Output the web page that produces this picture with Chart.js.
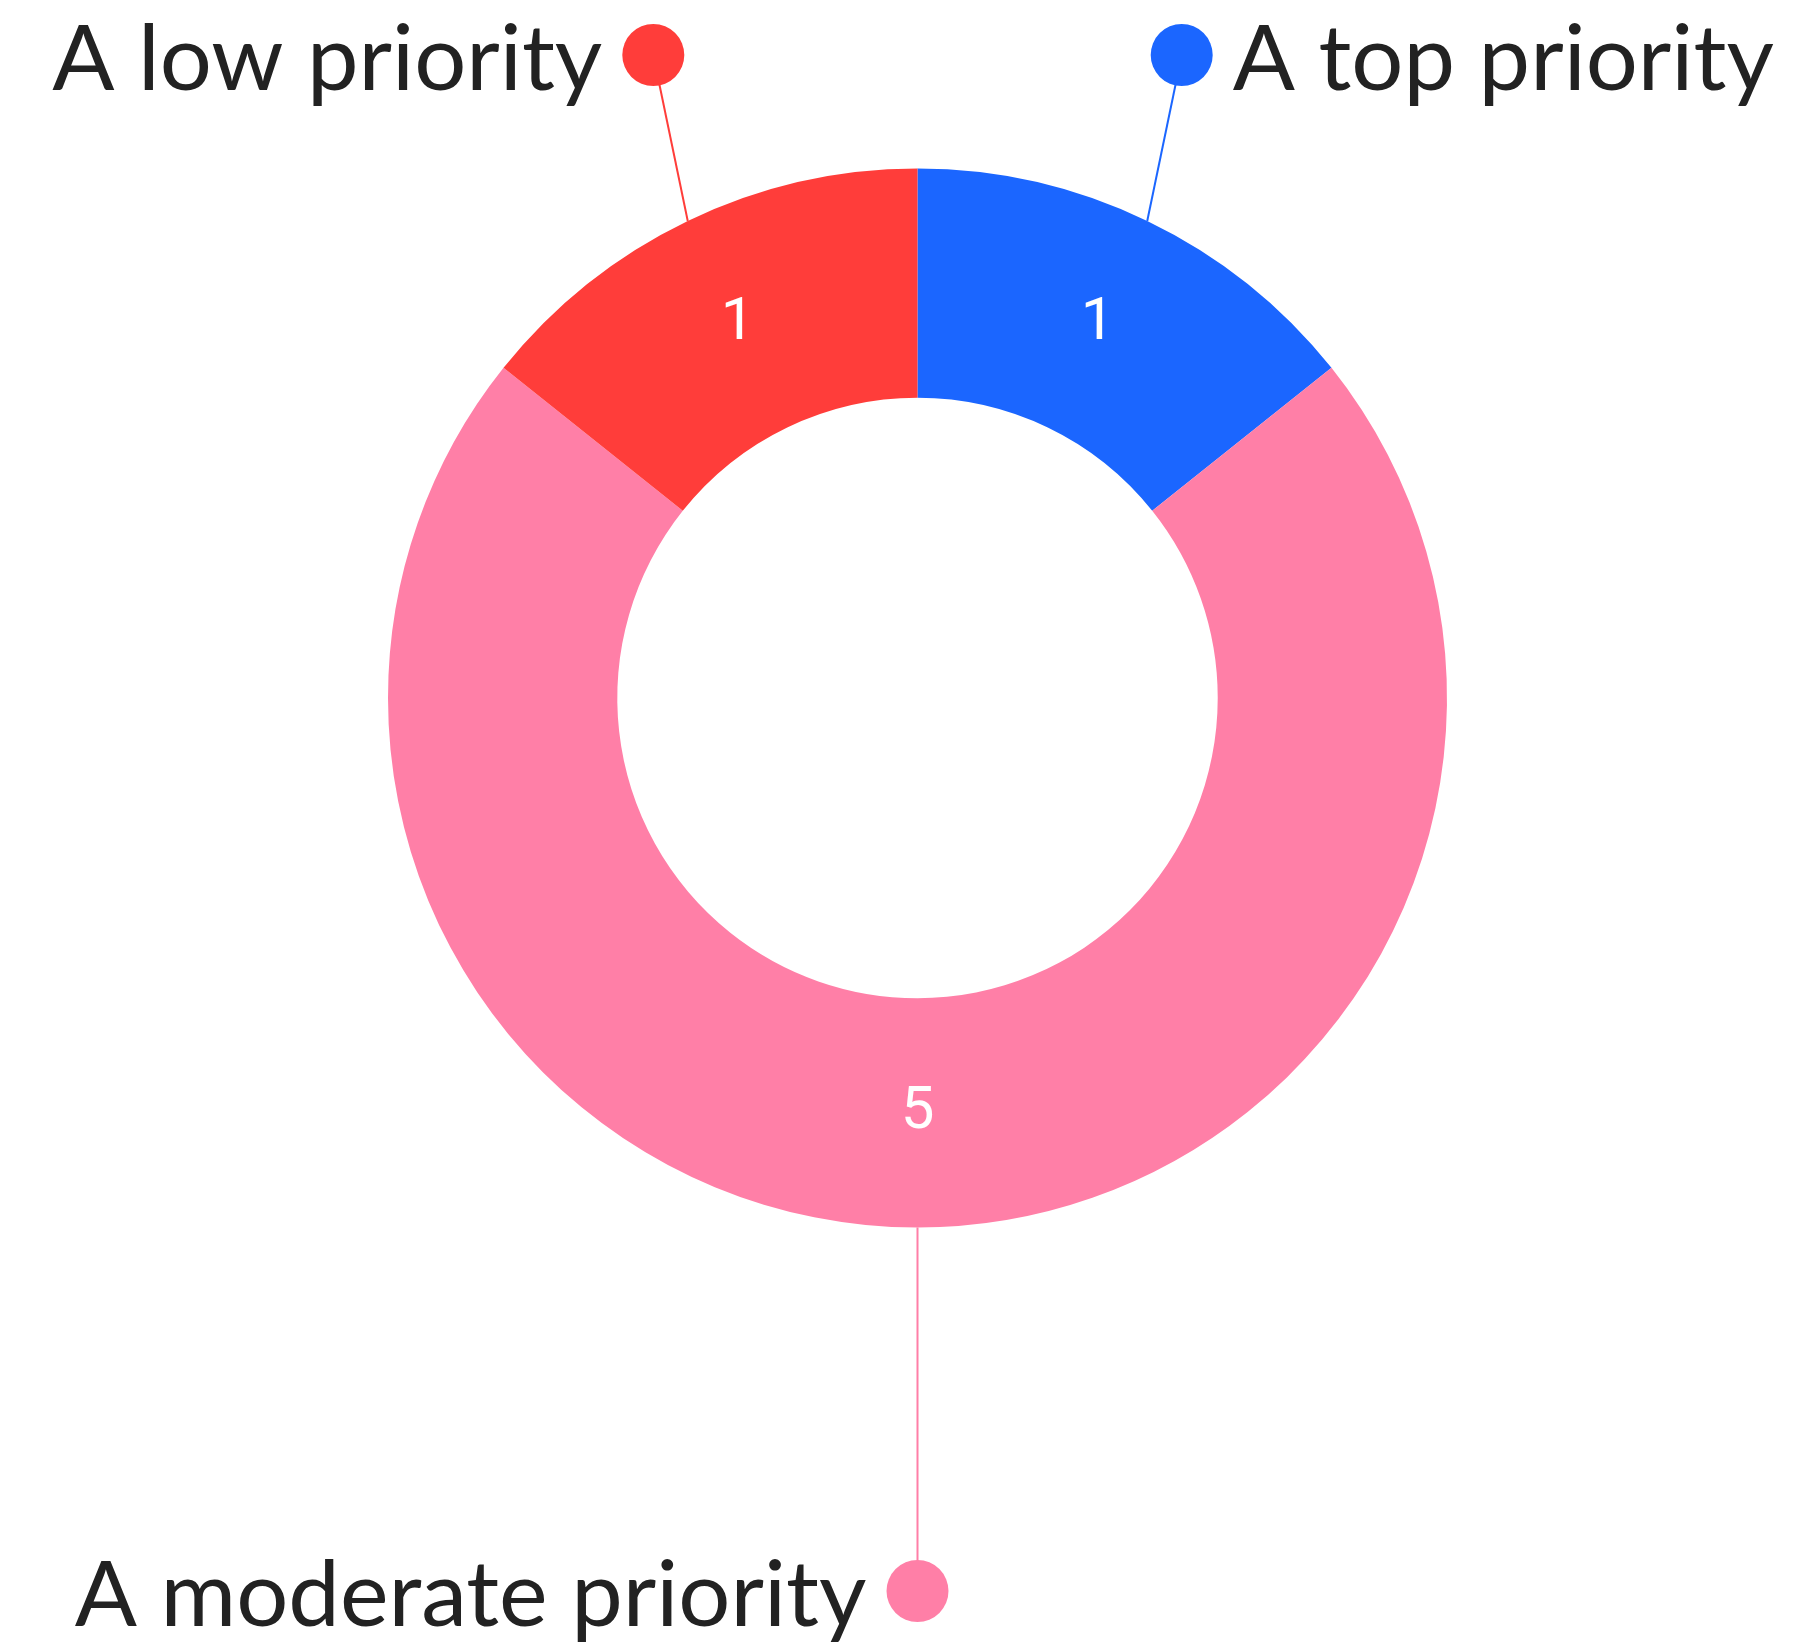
<!DOCTYPE html>
<html>
<head>
<meta charset="utf-8">
<script src="https://cdn.jsdelivr.net/npm/chart.js@4.4.1/dist/chart.umd.min.js"></script>
<style>
  html, body { margin: 0; padding: 0; background: #fff; }
  canvas { display: block; }
</style>
</head>
<body>
<canvas id="chartPrioridad" width="1799" height="1648"></canvas>
<script>
// data
const categorias = ["A top priority", "A moderate priority", "A low priority"];
const valores = [1, 5, 1];
const colores = ["#1b66ff", "#ff7fa7", "#ff3d3a"];

// leader lines + dots + outside labels
const etiquetasFuera = {
  id: "etiquetasFuera",
  afterDatasetsDraw(chart) {
    const ctx = chart.ctx;
    const arcs = chart.getDatasetMeta(0).data;
    const topY = 55, bottomY = 1591, dotR = 31, gap = 20;
    ctx.save();
    ctx.font = "400 92px Lato";
    ctx.textBaseline = "alphabetic";
    arcs.forEach((arc, i) => {
      const { x, y, outerRadius, startAngle, endAngle } = arc.getProps(["x", "y", "outerRadius", "startAngle", "endAngle"], true);
      const mid = (startAngle + endAngle) / 2;
      const sx = x + Math.cos(mid) * outerRadius;
      const sy = y + Math.sin(mid) * outerRadius;
      const abajo = Math.sin(mid) > 0;
      const dy = abajo ? bottomY : topY;
      const dx = x + Math.cos(mid) * outerRadius * 1.15;

      ctx.strokeStyle = colores[i];
      ctx.lineWidth = 2;
      ctx.beginPath();
      ctx.moveTo(sx, sy);
      ctx.lineTo(dx, dy);
      ctx.stroke();

      ctx.fillStyle = colores[i];
      ctx.beginPath();
      ctx.arc(dx, dy, dotR, 0, Math.PI * 2);
      ctx.fill();

      ctx.fillStyle = "#222";
      const derecha = Math.cos(mid) > 0.05;
      ctx.textAlign = derecha ? "left" : "right";
      const tx = derecha ? dx + dotR + gap : dx - dotR - gap;
      ctx.fillText(categorias[i], tx, dy + 35);
    });
    ctx.restore();
  }
};

// value labels inside the ring
const valoresDentro = {
  id: "valoresDentro",
  afterDatasetsDraw(chart) {
    const ctx = chart.ctx;
    ctx.save();
    ctx.font = "400 60px Roboto";
    ctx.fillStyle = "#fff";
    ctx.textAlign = "center";
    ctx.textBaseline = "middle";
    chart.getDatasetMeta(0).data.forEach((arc, i) => {
      const p = arc.getCenterPoint();
      ctx.fillText(String(valores[i]), p.x, p.y);
    });
    ctx.restore();
  }
};

new Chart(document.getElementById("chartPrioridad"), {
  type: "doughnut",
  data: {
    labels: categorias,
    datasets: [{ data: valores, backgroundColor: colores, borderWidth: 0, hoverOffset: 0 }]
  },
  options: {
    responsive: false,
    animation: false,
    devicePixelRatio: 1,
    cutout: "56.7%",
    layout: { padding: { left: 388, right: 352, top: 168, bottom: 420 } },
    plugins: { legend: { display: false }, tooltip: { enabled: false } }
  },
  plugins: [etiquetasFuera, valoresDentro]
});
</script>
</body>
</html>
